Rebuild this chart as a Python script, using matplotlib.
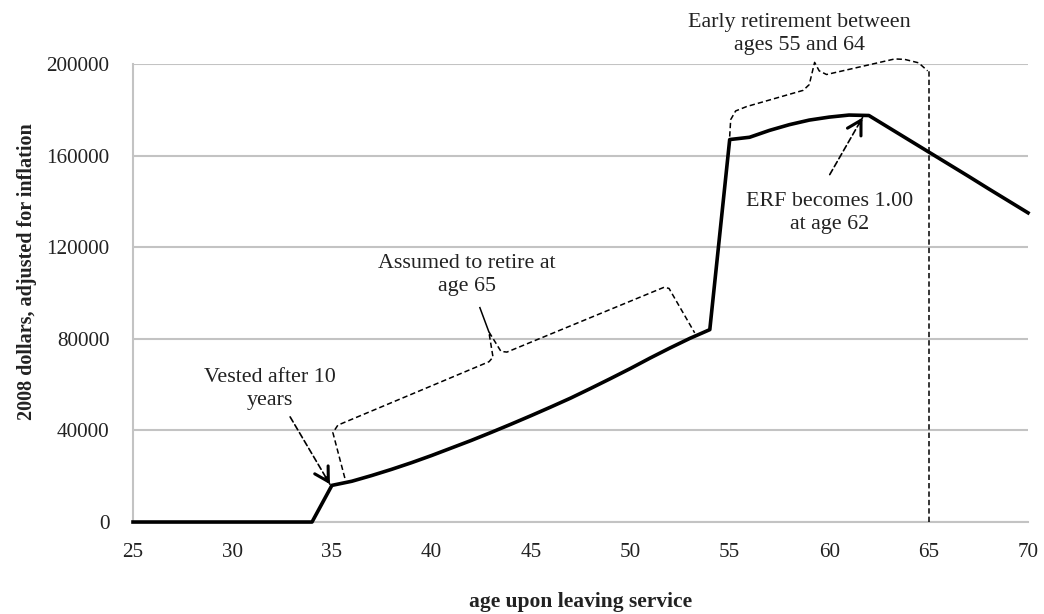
import matplotlib
matplotlib.use("Agg")
import matplotlib.pyplot as plt

plt.rcParams['font.family'] = ['Liberation Serif', 'DejaVu Serif']

# ---- data ----
ages = list(range(25, 71))
values = [0, 0, 0, 0, 0, 0, 0, 0, 0, 0,          # 25-34
          16000, 17800, 20300, 23000, 25900,     # 35-39
          29000, 32300, 35600, 39100, 42700,     # 40-44
          46400, 50200, 54100, 58300, 62600,     # 45-49
          67000, 71600, 76000, 80200, 84000,     # 50-54
          167000, 168000, 171000, 173500, 175500,  # 55-59
          176800, 177700, 177500, 172200, 166900,  # 60-64
          161600, 156300, 151000, 145600, 140300,  # 65-69
          135000]                                # 70

x_ticks = [25, 30, 35, 40, 45, 50, 55, 60, 65, 70]
y_ticks = [0, 40000, 80000, 120000, 160000, 200000]

xlabel = "age upon leaving service"
ylabel = "2008 dollars, adjusted for inflation"

ann_vested = "Vested after 10\nyears"
ann_assumed = "Assumed to retire at\nage 65"
ann_early = "Early retirement between\nages 55 and 64"
ann_erf = "ERF becomes 1.00\nat age 62"

# brace paths (data coords)
brace1 = [(35.65, 19200), (35.05, 39000), (35.3, 42300), (42.9, 70000), (43.1, 72000),
          (42.89, 83100), (43.5, 74500), (43.8, 74200), (51.7, 102500), (51.95, 102000),
          (53.24, 82600)]
brace2 = [(55.0, 168300), (55.05, 175700), (55.3, 179500), (55.85, 181400), (58.7, 188500),
          (59.0, 191000), (59.27, 200700), (59.5, 197000), (59.87, 195400), (63.3, 202200),
          (63.8, 202000), (64.5, 200500), (64.95, 197000)]

# ---- figure ----
fig = plt.figure(figsize=(10.44, 6.14), dpi=100)
ax = fig.add_axes([0.1274, 0.1498, 0.9847 - 0.1274, 0.8958 - 0.1498])

grid_col = '#c3c3c3'
txt_col = '#222222'
dash = (0, (3.5, 2))

ax.set_xlim(25, 70)
ax.set_ylim(0, 200000)
ax.set_xticks(x_ticks)
ax.set_yticks(y_ticks)
ax.set_xticklabels([str(t) for t in x_ticks])
ax.set_yticklabels([str(t) for t in y_ticks])
ax.tick_params(axis='both', length=0, labelsize=15.2, colors=txt_col)
ax.tick_params(axis='y', pad=17)
ax.tick_params(axis='x', pad=15)
ax.yaxis.grid(True, color=grid_col, lw=1.5)
ax.set_axisbelow(True)
for s in ['top', 'right']:
    ax.spines[s].set_visible(False)
for s in ['left', 'bottom']:
    ax.spines[s].set_color(grid_col)
    ax.spines[s].set_linewidth(1.5)

ax.plot(ages, values, color='black', lw=2.6, solid_joinstyle='round', zorder=5, clip_on=False)

# vertical line at 65
ax.plot([65, 65], [0, 197000], color='black', lw=1.1, ls=dash, clip_on=False, zorder=4)

# braces
bx, by = zip(*brace1)
ax.plot(bx, by, color='black', lw=1.1, ls=dash, zorder=4)
bx, by = zip(*brace2)
ax.plot(bx, by, color='black', lw=1.1, ls=dash, zorder=4, clip_on=False)
# leader line from brace1 tip
ax.plot([42.89, 42.44], [83100, 93600], color='black', lw=1.1, zorder=4)

def dashed_arrow(start, end):
    ax.annotate('', xy=end, xytext=start,
                arrowprops=dict(arrowstyle='-', ls=dash, lw=1.2, color='black',
                                shrinkA=0, shrinkB=0), zorder=6)
    fx = start[0] + 0.9 * (end[0] - start[0])
    fy = start[1] + 0.9 * (end[1] - start[1])
    ax.annotate('', xy=end, xytext=(fx, fy),
                arrowprops=dict(arrowstyle='->,head_length=0.7,head_width=0.4', lw=2.2,
                                color='black', shrinkA=0, shrinkB=0, mutation_scale=14),
                zorder=6)

dashed_arrow((32.9, 45900), (34.9, 16500))
dashed_arrow((60.03, 151700), (61.68, 176600))

tk = dict(ha='center', va='center', fontsize=15.8, color=txt_col, linespacing=1.28)
ax.text(31.9, 58000, ann_vested, **tk)
ax.text(41.8, 108000, ann_assumed, **tk)
ax.text(58.5, 213200, ann_early, clip_on=False, **tk)
ax.text(60.0, 135000, ann_erf, **tk)

ax.set_xlabel(xlabel, fontsize=15.5, fontweight='bold', color=txt_col)
ax.xaxis.set_label_coords(0.5, -0.152)
ax.set_ylabel(ylabel, fontsize=14.5, fontweight='bold', color=txt_col)
ax.yaxis.set_label_coords(-0.107, 0.546)

fig.savefig('out.png', dpi=100)
